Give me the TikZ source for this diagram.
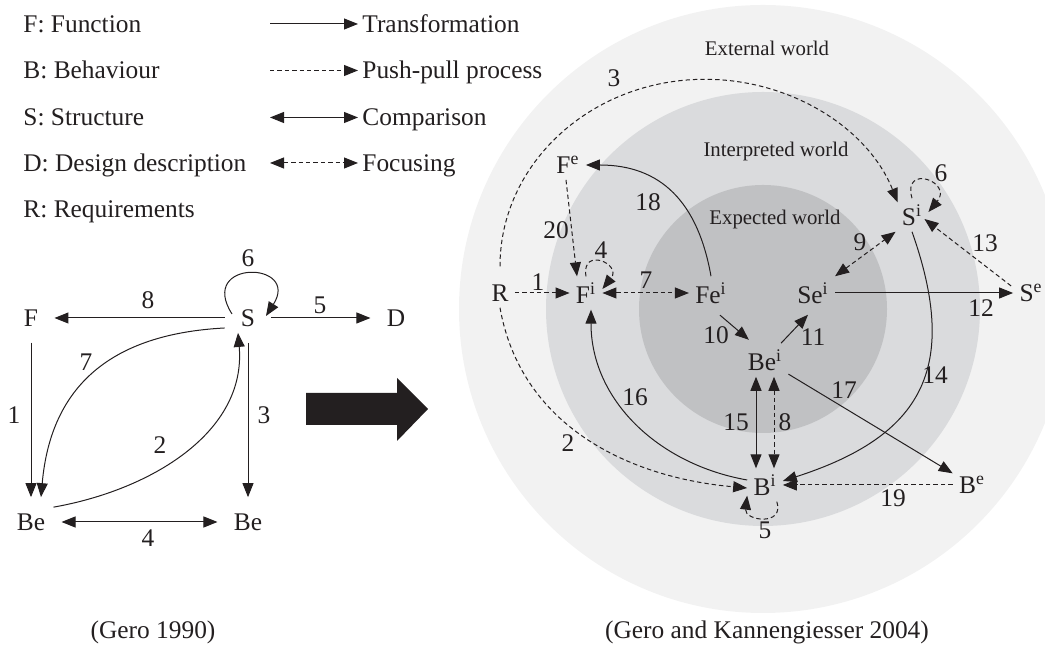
\documentclass[tikz,border=0pt]{standalone}
\usepackage{fontspec}
\setmainfont{Liberation Serif}
\usetikzlibrary{arrows.meta}

\definecolor{ink}{HTML}{231F20}
\definecolor{outerw}{HTML}{F2F2F2}
\definecolor{interw}{HTML}{DADBDD}
\definecolor{expectw}{HTML}{C0C1C3}

\begin{document}
\begin{tikzpicture}[x=0.5pt,y=0.5pt,>={Triangle[length=7pt,width=5.5pt]},
  every node/.style={font=\fontsize{12.7}{15}\selectfont,text=ink},
  trans/.style={->,draw=ink,line width=0.5pt},
  push/.style={->,draw=ink,line width=0.5pt,dash pattern=on 2.2pt off 1.5pt},
  comp/.style={<->,draw=ink,line width=0.5pt},
  focus/.style={<->,draw=ink,line width=0.5pt,dash pattern=on 2.2pt off 1.5pt},
  gnode/.style={inner sep=8pt},
  knode/.style={inner sep=3pt},
  legend/.style={anchor=base west,inner sep=2pt},
  world/.style={font=\fontsize{10.4}{12}\selectfont}]

\useasboundingbox (0,0) rectangle (1045,646);

% the three worlds
\begin{scope}
\clip (0,0) rectangle (1045,646);
\fill[outerw] (763,337) circle (304);
\fill[interw] (763,337) circle (217);
\fill[expectw] (763,337) circle (124);
\end{scope}
\node[world] (wext) at (767,598) {External world};
\node[world] (wint) at (776,494) {Interpreted world};
\node[world] (wexp) at (775,426) {Expected world};

% legend
\node[legend,inner sep=0pt] (vf) at (23,613) {F: Function};
\node[legend,inner sep=0pt] (vb) at (23,567) {B: Behaviour};
\node[legend,inner sep=0pt] (vs) at (23,520) {S: Structure};
\node[legend,inner sep=0pt] (vd) at (23,474.5) {D: Design description};
\node[legend,inner sep=0pt] (vr) at (23,428) {R: Requirements};
\node[legend] (t1) at (358,613) {Transformation};
\node[legend] (t2) at (358,567) {Push-pull process};
\node[legend] (t3) at (358,520) {Comparison};
\node[legend] (t4) at (358,474.5) {Focusing};
\coordinate (a1) at (270,622);
\coordinate (a2) at (270,575.5);
\coordinate (a3) at (270,528.5);
\coordinate (a4) at (270,483);
\draw[trans] (a1) -- (a1 -| t1.west);
\draw[push] (a2) -- (a2 -| t2.west);
\draw[comp] (a3) -- (a3 -| t3.west);
\draw[focus] (a4) -- (a4 -| t4.west);

% Gero 1990
\node[gnode] (F) at (31,328) {F};
\node[gnode] (S) at (248,328) {S};
\node[gnode] (D) at (396,328) {D};
\node[gnode] (BeL) at (31,124) {Be};
\node[gnode] (BeR) at (248,124) {Be};

\draw[trans] (S) -- (F);
\draw[trans] (S) -- (D);
\draw[trans] (F) -- (BeL);
\draw[trans] (S) -- (BeR);
\draw[comp] (BeL) -- (BeR);
\draw[trans] ([yshift=-5pt]S.west) to[out=183,in=85,looseness=1.15] ([xshift=5pt]BeL.north);
\draw[trans] ([shift={(-4pt,-5pt)}]BeL.north east) to[out=10,in=-85] ([shift={(-5pt,5pt)}]S.south);
\draw[trans] ([shift={(-8pt,2pt)}]S.center) .. controls +(-35,55) and +(35,55) .. ([shift={(9pt,1pt)}]S.center);

\node (g1) at (14,231) {1};
\node (g2) at (160,201) {2};
\node (g3) at (264,231) {3};
\node (g4) at (148,108) {4};
\node (g5) at (320,341) {5};
\node (g6) at (248,388) {6};
\node (g7) at (86,284) {7};
\node (g8) at (148,346) {8};

% big arrow
\fill[ink] (306,221) -- (397,221) -- (397,205) -- (428,237) -- (397,268) -- (397,253) -- (306,253) -- cycle;

% Gero and Kannengiesser 2004
\node[knode] (R) at (500,353) {R};
\node[knode] (Fi) at (586,353) {F\textsuperscript{i}};
\node[knode] (Fei) at (711,353) {Fe\textsuperscript{i}};
\node[knode] (Sei) at (813,353) {Se\textsuperscript{i}};
\node[knode] (Se) at (1031,353) {S\textsuperscript{e}};
\node[knode] (Fe) at (568,481) {F\textsuperscript{e}};
\node[knode] (Si) at (912,431) {S\textsuperscript{i}};
\node[knode] (Bei) at (765,286) {Be\textsuperscript{i}};
\node[knode] (Bi) at (765,161) {B\textsuperscript{i}};
\node[knode] (Be) at (972,161) {B\textsuperscript{e}};

\draw[push] (R) -- (Fi);
\draw[push] (R.south) to[out=-80,in=175] ([yshift=-1.5pt]Bi.west);
\draw[push] ([yshift=6pt]R.north) arc[start angle=180,end angle=20,x radius=205,y radius=187];
\draw[push] (Fi.north) .. controls +(-5,30) and +(20,25) .. ([yshift=2pt]Fi.east);
\draw[push] ([xshift=-3pt]Bi.south east) .. controls +(8,-25) and +(-3,-25) .. ([yshift=3pt]Bi.south west);
\draw[push] (Si.north) .. controls +(-10,35) and +(25,30) .. ([yshift=1.5pt]Si.east);
\draw[focus] (Fi) -- (Fei);
\draw[focus] ([xshift=4.5pt]Bei.south) -- ([xshift=4.5pt]Bi.north);
\draw[focus] (Sei.north east) -- (Si.south west);
\draw[trans] ([shift={(4.5pt,-2.7pt)}]Fei.south) -- ([shift={(3.7pt,1.7pt)}]Bei.north west);
\draw[trans] ([xshift=8pt]Bei.north) -- ([shift={(-2.5pt,-2.5pt)}]Sei.south);
\draw[trans] (Sei) -- (Se);
\draw[push] ([shift={(-1pt,-4pt)}]Se.north west) -- ([shift={(-2pt,-2pt)}]Si.east);
\draw[trans] (Si.south) .. controls +(48,-136) and +(140,45) .. ([yshift=2pt]Bi.east);
\draw[comp] ([xshift=-4.5pt]Bei.south) -- ([xshift=-4.5pt]Bi.north);
\draw[trans] ([yshift=2.5pt]Bi.west) to[out=170,in=-90] ([xshift=2.5pt]Fi.south);
\draw[trans] (Bei) -- (Be);
\draw[trans] (Fei.north) to[out=100,in=0,looseness=1.15] (Fe.east);
\draw[push] (Be) -- (Bi);
\draw[push] ([xshift=-1pt]Fe.south) -- ([xshift=-4.5pt]Fi.north);

\node (k1) at (538,364) {1};
\node (k2) at (568,203) {2};
\node (k3) at (614,568) {3};
\node (k4) at (601,396) {4};
\node (k5) at (765,116) {5};
\node (k6) at (941,473) {6};
\node (k7) at (646,366) {7};
\node (k8) at (785,224) {8};
\node (k9) at (860,404) {9};
\node (k10) at (716,311) {10};
\node (k11) at (813,309) {11};
\node (k12) at (981,338) {12};
\node (k13) at (985,403) {13};
\node (k14) at (935,271) {14};
\node (k15) at (736,224) {15};
\node (k16) at (635,249) {16};
\node (k17) at (844,256) {17};
\node (k18) at (648,444) {18};
\node (k19) at (893,148) {19};
\node (k20) at (556,416) {20};

\node (capL) at (153,14) {(Gero 1990)};
\node (capR) at (767,14) {(Gero and Kannengiesser 2004)};

\end{tikzpicture}
\end{document}
